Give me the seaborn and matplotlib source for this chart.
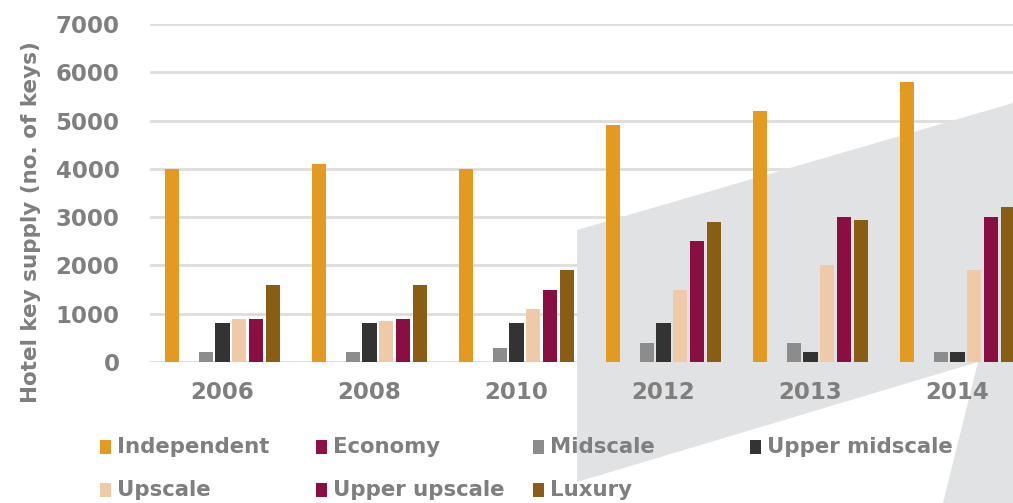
import matplotlib
matplotlib.use("Agg")
import matplotlib.pyplot as plt
from matplotlib.patches import Polygon, Rectangle
import seaborn as sns
import pandas as pd

years = ["2006", "2008", "2010", "2012", "2013", "2014"]
segments = ["Independent", "Economy", "Midscale", "Upper midscale",
            "Upscale", "Upper upscale", "Luxury"]
independent = [4000, 4100, 4000, 4900, 5200, 5800]
economy = [0, 0, 0, 0, 0, 0]
midscale = [200, 200, 300, 400, 400, 200]
upper_midscale = [800, 800, 800, 800, 200, 200]
upscale = [900, 850, 1100, 1500, 2000, 1900]
upper_upscale = [900, 900, 1500, 2500, 3000, 3000]
luxury = [1600, 1600, 1900, 2900, 2950, 3200]
colors = ["#E29A20", "#8E1048", "#8C8C8C", "#333333",
          "#EECAA9", "#890F42", "#8A5D14"]
yticks = [0, 1000, 2000, 3000, 4000, 5000, 6000, 7000]

series_values = [independent, economy, midscale, upper_midscale,
                 upscale, upper_upscale, luxury]
rows = []
for seg, vals in zip(segments, series_values):
    for yr, v in zip(years, vals):
        rows.append({"year": yr, "segment": seg, "keys": v})
df = pd.DataFrame(rows)

sns.set_theme(style="white")
plt.rcParams["font.family"] = ["DejaVu Sans"]

W, H = 1013, 503
fig = plt.figure(figsize=(W / 100, H / 100), dpi=100)
fig.patch.set_facecolor("white")

ax_left, ax_right, ax_top, ax_bot = 150, 1013, 24, 362
ax = fig.add_axes([ax_left / W, 1 - ax_bot / H, (ax_right - ax_left) / W,
                   (ax_bot - ax_top) / H])
ax.patch.set_alpha(0)

sns.barplot(data=df, x="year", y="keys", hue="segment", order=years,
            hue_order=segments, palette=colors, saturation=1, width=0.8,
            gap=0.16, linewidth=0, legend=False, ax=ax)

# horizontal grid lines (below the decorative shape)
for t in yticks:
    ax.axhline(t, color="#DDDDDD", linewidth=2, zorder=0.3)

# decorative grey shape (behind bars, over grid)
pts = [(577, 230), (1013, 103), (1013, 503), (943, 503), (978, 362), (577, 482)]
poly = Polygon([(x / W, 1 - y / H) for x, y in pts], closed=True,
               transform=fig.transFigure, facecolor="#E1E2E4",
               edgecolor="none", zorder=0.8, clip_on=False)
ax.add_patch(poly)

ax.set_ylim(0, 7000)
ax.set_yticks(yticks)
ax.set_yticklabels([str(t) for t in yticks])
c0 = 222.5
step = 147.0
ax.set_xlim((ax_left - c0) / step, (ax_right - c0) / step)
ax.set_axisbelow(False)
ax.grid(False)
for s in ax.spines.values():
    s.set_visible(False)
gray = "#7F7F7F"
ax.tick_params(axis="y", length=0, pad=22, labelsize=16.5, labelcolor=gray)
ax.tick_params(axis="x", length=0, pad=14, labelsize=16.5, labelcolor=gray)
for lab in ax.get_xticklabels() + ax.get_yticklabels():
    lab.set_fontweight("bold")

ax.set_xlabel("")
ax.set_ylabel("Hotel key supply (no. of keys)", fontsize=15.5,
              fontweight="bold", color=gray)
ax.yaxis.set_label_coords((41 - ax_left) / (ax_right - ax_left),
                          (ax_bot - 222) / (ax_bot - ax_top))

# legend, row-major 4 columns
col_x = [100, 316, 533, 750]
row_y = [447, 490]
for i, (seg, col) in enumerate(zip(segments, colors)):
    cx = col_x[i % 4]
    cy = row_y[i // 4]
    fig.patches.append(Rectangle((cx / W, 1 - (cy + 7) / H), 11 / W, 14 / H,
                                 transform=fig.transFigure, facecolor=col,
                                 edgecolor="none", zorder=3))
    fig.text((cx + 17) / W, 1 - cy / H, seg, ha="left", va="center",
             fontsize=15.3, fontweight="bold", color=gray, zorder=3)

fig.savefig("out.png", dpi=100, facecolor="white")
